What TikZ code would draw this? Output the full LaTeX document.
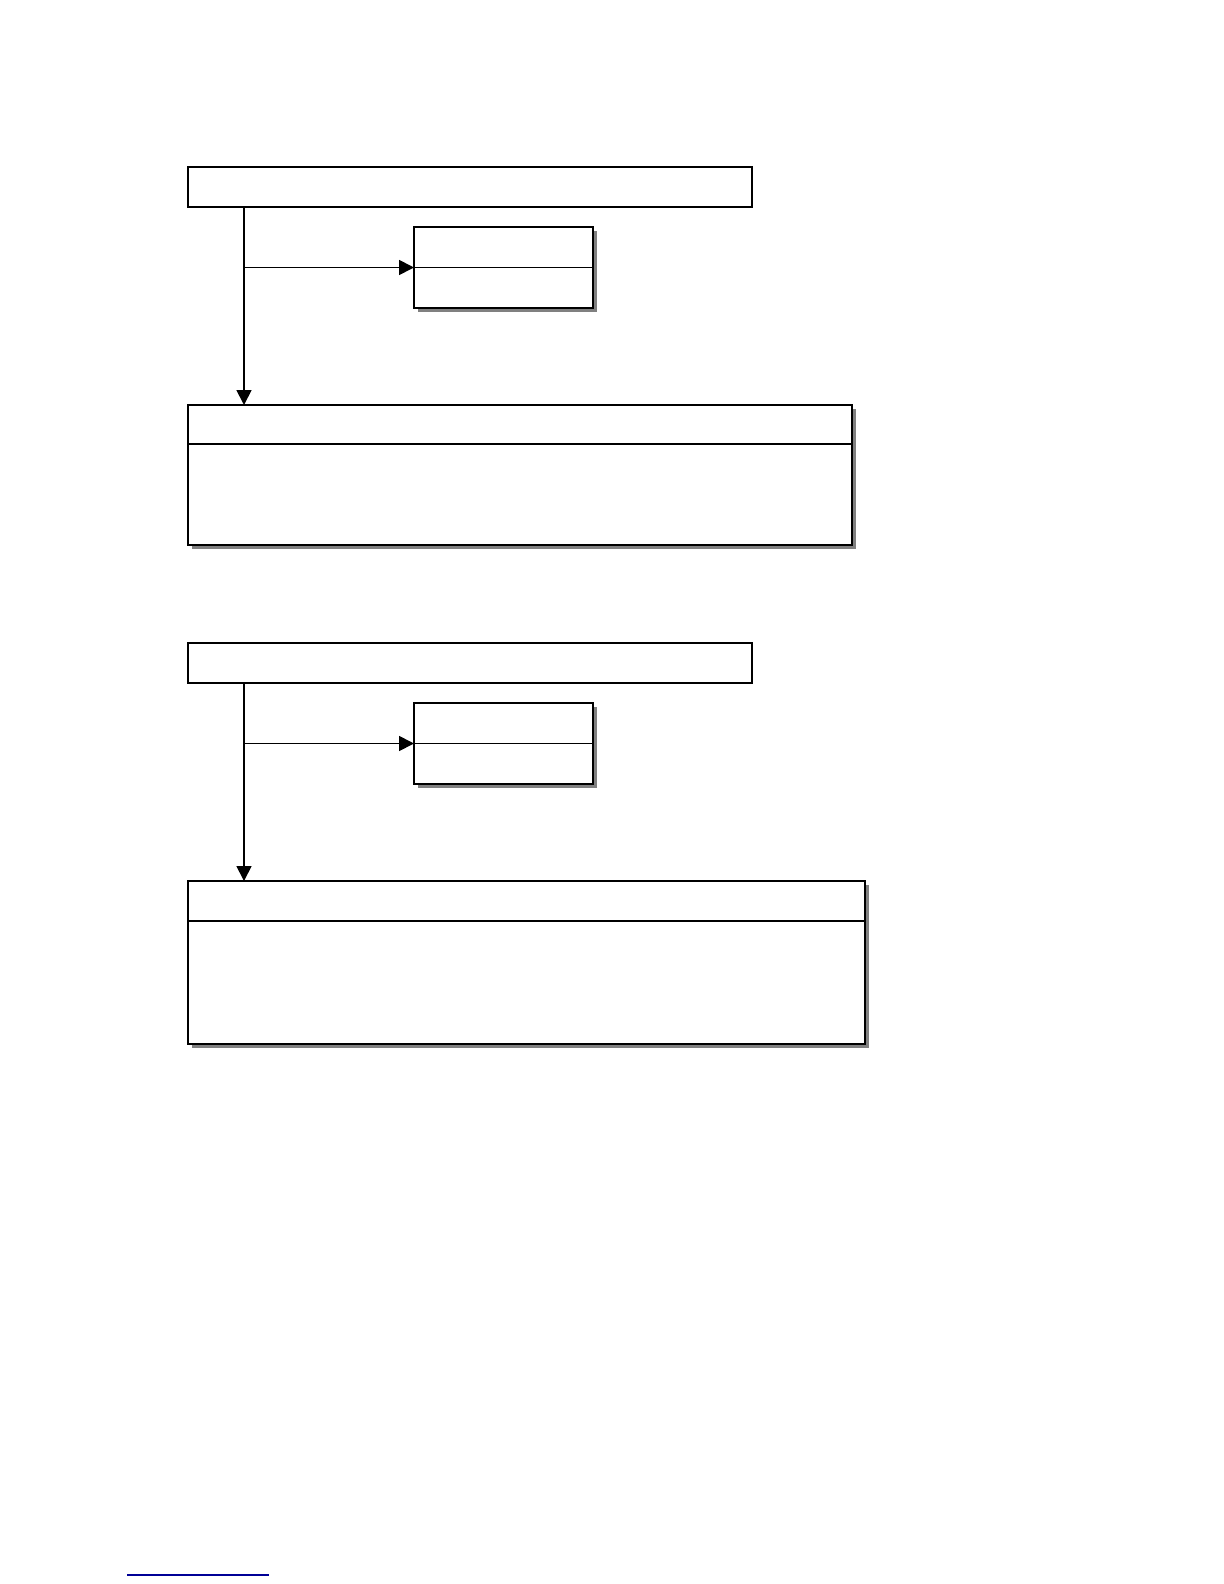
\documentclass[tikz,border=0pt]{standalone}
\usetikzlibrary{arrows.meta,shadows,calc}
\definecolor{shadowgray}{RGB}{128,128,128}
\definecolor{linknavy}{RGB}{0,0,150}
\tikzset{
  box/.style={draw=black, line width=1pt, fill=white, rectangle, inner sep=0pt, outer sep=0pt, anchor=north west},
  shadowbox/.style={box, drop shadow={shadow xshift=2pt, shadow yshift=-2pt, fill=shadowgray, opacity=1}},
  divider/.style={line width=0.9pt},
  arr/.style={line width=0.9pt, -{Triangle[length=7.5pt,width=7.5pt]}},
}
\begin{document}
\begin{tikzpicture}[x=0.5pt,y=-0.5pt]
\useasboundingbox (0,0) rectangle (1224,1584);
% ---------- first group ----------
\node[box, minimum width=282pt, minimum height=20pt] (t1) at (188,167) {};
\node[shadowbox, minimum width=89.5pt, minimum height=40.5pt] (s1) at (414,227) {};
\draw[divider] (s1.west) -- (s1.east);
\node[shadowbox, minimum width=332pt, minimum height=70pt] (b1) at (188,405) {};
\draw[divider] ($(b1.north west)+(0,39)$) -- ($(b1.north east)+(0,39)$);
\coordinate (j1) at (244,267.5);
\draw[arr] (t1.south -| j1) -- (b1.north -| j1);
\draw[arr] (j1) -- (s1.west);
% ---------- second group ----------
\node[box, minimum width=282pt, minimum height=20pt] (t2) at (188,643) {};
\node[shadowbox, minimum width=89.5pt, minimum height=40.5pt] (s2) at (414,703) {};
\draw[divider] (s2.west) -- (s2.east);
\node[shadowbox, minimum width=338.5pt, minimum height=81.5pt] (b2) at (188,881) {};
\draw[divider] ($(b2.north west)+(0,40)$) -- ($(b2.north east)+(0,40)$);
\coordinate (j2) at (244,743.5);
\draw[arr] (t2.south -| j2) -- (b2.north -| j2);
\draw[arr] (j2) -- (s2.west);
% ---------- footnote rule ----------
\draw[linknavy, line width=0.8pt] (127,1575) -- (269,1575);
\end{tikzpicture}
\end{document}
